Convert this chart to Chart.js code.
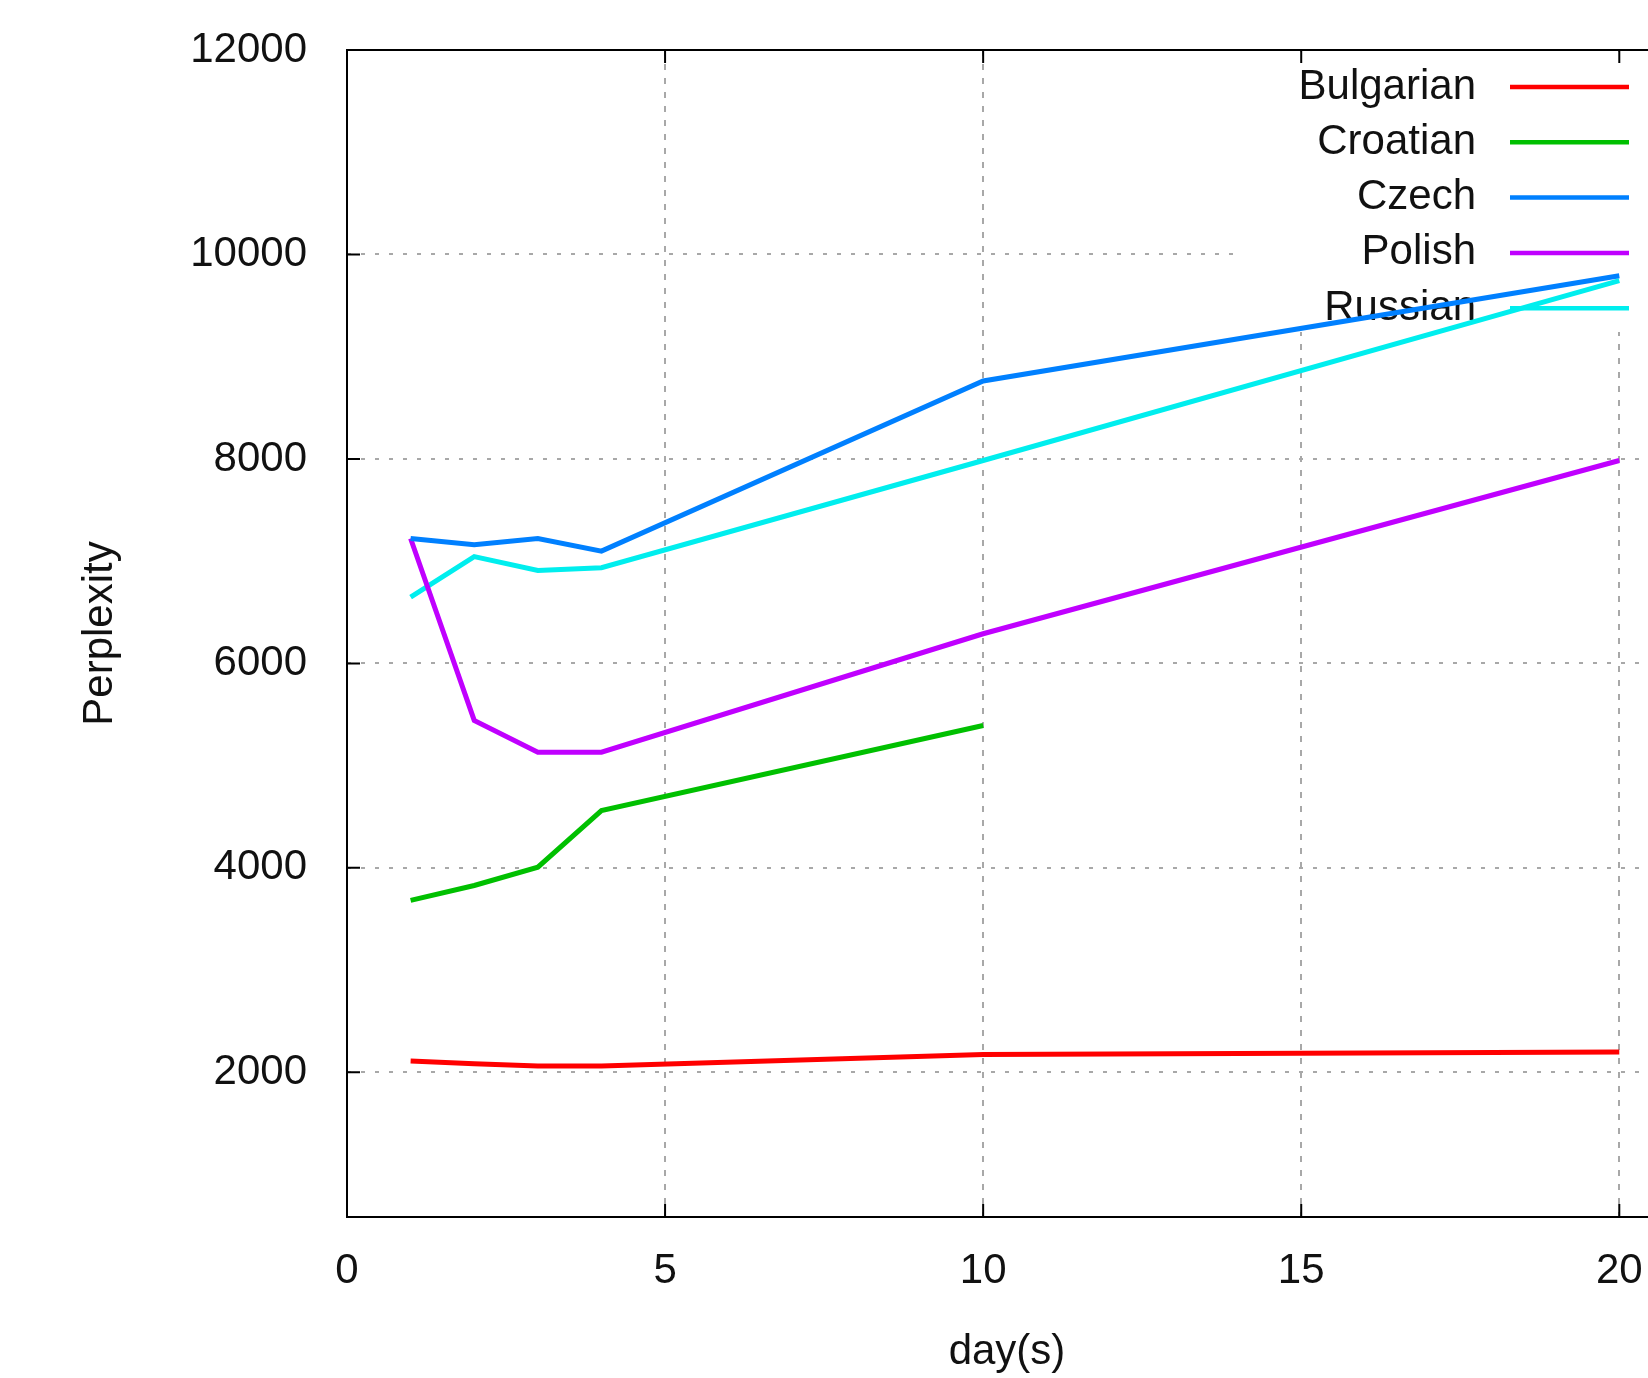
<!DOCTYPE html>
<html>
<head>
<meta charset="utf-8">
<title>Perplexity per day</title>
<script src="https://cdn.jsdelivr.net/npm/chart.js@4.4.1/dist/chart.umd.min.js"></script>
<style>
  html, body { margin: 0; padding: 0; background: #fff; }
  #wrap { width: 1648px; height: 1378px; overflow: hidden; position: relative; }
  canvas { display: block; }
</style>
</head>
<body>
<div id="wrap"><canvas id="perplexityChart" width="1720" height="1378"></canvas></div>
<script>
const days = [1, 2, 3, 4, 10, 20];

const bulgarian = [2110, 2085, 2062, 2062, 2175, 2200];
const croatian = [3682, 3828, 4007, 4561, 5393, null];
const czech = [7222, 7160, 7222, 7098, 8763, 9792];
const polish = [7222, 5442, 5131, 5131, 6290, 7985];
const russian = [6648, 7045, 6909, 6936, 7985, 9745];

const xTicks = [0, 5, 10, 15, 20];
const yTicks = [2000, 4000, 6000, 8000, 10000, 12000];

const FONT = "'Liberation Sans', Arial, sans-serif";

function points(values) {
  return days.map((d, i) => ({ x: d, y: values[i] }));
}

function series(label, values, color) {
  return {
    label: label,
    data: points(values),
    borderColor: color,
    backgroundColor: color,
    borderWidth: 5,
    pointRadius: 0,
    tension: 0,
    fill: false,
  };
}

// gnuplot-style key: blank box over the grid, right aligned text, sample on the right
const keyPlugin = {
  id: "gnuplotKey",
  beforeDatasetsDraw(chart) {
    const { ctx, chartArea } = chart;
    const r = chartArea.right;
    ctx.save();
    ctx.fillStyle = "#fff";
    ctx.fillRect(r - 432, chartArea.top + 2, 432, 280);
    ctx.font = "42px " + FONT;
    ctx.textAlign = "right";
    ctx.textBaseline = "middle";
    chart.data.datasets.forEach((ds, i) => {
      const y = chartArea.top + 37 + i * 55.3;
      ctx.fillStyle = "#111";
      ctx.fillText(ds.label, r - 191, y);
      ctx.strokeStyle = ds.borderColor;
      ctx.lineWidth = 4.5;
      ctx.beginPath();
      ctx.moveTo(r - 157, y);
      ctx.lineTo(r - 38, y);
      ctx.stroke();
    });
    ctx.restore();
  },
  afterDatasetsDraw(chart) {
    const { ctx, chartArea, scales } = chart;
    const { left, right, top, bottom } = chartArea;
    ctx.save();
    ctx.strokeStyle = "#000";
    ctx.lineWidth = 2;
    ctx.strokeRect(left, top, right - left, bottom - top);
    ctx.beginPath();
    xTicks.forEach((v) => {
      const x = scales.x.getPixelForValue(v);
      ctx.moveTo(x, bottom); ctx.lineTo(x, bottom - 13);
      ctx.moveTo(x, top); ctx.lineTo(x, top + 13);
    });
    yTicks.forEach((v) => {
      const y = scales.y.getPixelForValue(v);
      ctx.moveTo(left, y); ctx.lineTo(left + 13, y);
      ctx.moveTo(right, y); ctx.lineTo(right - 13, y);
    });
    ctx.stroke();
    ctx.restore();
  },
};

const config = {
  type: "line",
  data: {
    datasets: [
      series("Bulgarian", bulgarian, "#ff0000"),
      series("Croatian", croatian, "#00c000"),
      series("Czech", czech, "#0080ff"),
      series("Polish", polish, "#c000ff"),
      series("Russian", russian, "#00eeee"),
    ],
  },
  options: {
    responsive: false,
    animation: false,
    devicePixelRatio: 1,
    layout: { padding: { top: 50, right: 53, left: 0, bottom: 0 } },
    scales: {
      x: {
        type: "linear",
        min: 0,
        max: 20.75,
        afterBuildTicks: (axis) => { axis.ticks = xTicks.map((v) => ({ value: v })); },
        afterFit: (axis) => {
          axis.height = 161;
          axis.paddingLeft = 0;
          axis.paddingRight = 0;
        },
        ticks: {
          padding: 29,
          color: "#111",
          font: { family: FONT, size: 42 },
          callback: (v) => String(v),
        },
        grid: { color: "#a8a8a8", lineWidth: 2, drawTicks: false },
        border: { display: false, dash: [6, 8] },
        title: {
          display: true,
          text: "day(s)",
          color: "#111",
          font: { family: FONT, size: 42 },
          padding: { top: 0, bottom: 0 },
        },
      },
      y: {
        min: 585,
        max: 12000,
        afterBuildTicks: (axis) => { axis.ticks = yTicks.map((v) => ({ value: v })); },
        afterFit: (axis) => {
          axis.width = 347;
          axis.paddingTop = 0;
          axis.paddingBottom = 0;
        },
        ticks: {
          padding: 40,
          color: "#111",
          font: { family: FONT, size: 42 },
          callback: (v) => String(v),
        },
        grid: { color: "#a8a8a8", lineWidth: 2, drawTicks: false },
        border: { display: false, dash: [4, 10] },
        title: {
          display: true,
          text: "Perplexity",
          color: "#111",
          font: { family: FONT, size: 42 },
          padding: { top: 75, bottom: 0 },
        },
      },
    },
    plugins: {
      legend: { display: false },
      tooltip: { enabled: false },
    },
  },
  plugins: [keyPlugin],
};

new Chart(document.getElementById("perplexityChart"), config);
</script>
</body>
</html>
